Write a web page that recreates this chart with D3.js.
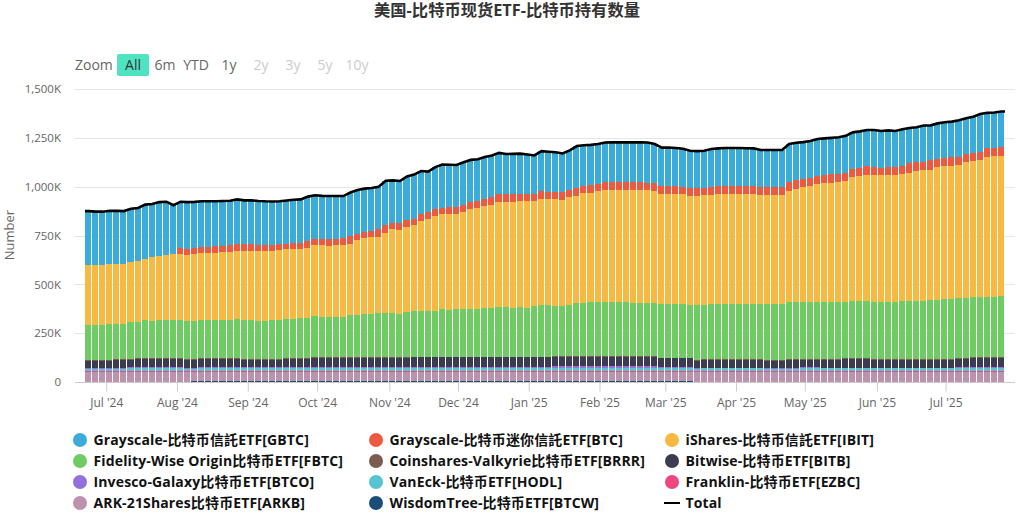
<!DOCTYPE html>
<html><head><meta charset="utf-8">
<script src="https://cdn.jsdelivr.net/npm/d3@7"></script>
<style>html,body{margin:0;padding:0;background:#fff;overflow:hidden}svg{display:block}
text{font-family:"Open Sans","Noto Sans CJK SC",sans-serif}</style></head><body>
<svg id="c" width="1024" height="513"></svg>
<script>
const titleText="美国-比特币现货ETF-比特币持有数量";
const yTicks=[0,250,500,750,1000,1250,1500];
const monthLabels=["Jul '24","Aug '24","Sep '24","Oct '24","Nov '24","Dec '24","Jan '25","Feb '25","Mar '25","Apr '25","May '25","Jun '25","Jul '25"];
const monthIndex=[3,13,23,32.8,43,52.7,62.7,72.7,82,92,101.7,111.9,121.6];
const zoomButtons=["All","6m","YTD","1y","2y","3y","5y","10y"];
const buttonCentres=[133,165,196,229,261,293,325,357];
const legendNames=["Grayscale-比特币信託ETF[GBTC]","Grayscale-比特币迷你信託ETF[BTC]","iShares-比特币信託ETF[IBIT]","Fidelity-Wise Origin比特币ETF[FBTC]","Coinshares-Valkyrie比特币ETF[BRRR]","Bitwise-比特币ETF[BITB]","Invesco-Galaxy比特币ETF[BTCO]","VanEck-比特币ETF[HODL]","Franklin-比特币ETF[EZBC]","ARK-21Shares比特币ETF[ARKB]","WisdomTree-比特币ETF[BTCW]","Total"];
const legendColors=["#3BACD9","#EC5A3F","#F6B942","#6FCB63","#7C5C50","#3B3C51","#9370DB","#56C3D3","#F0467F","#BC92AD","#1A4E78","#000000"];

const GBTC=[276,273,273,273,272,269,271,272,278,273,276,271,250,237,235,233,236,235,229,231,227,231,224,224,225,225,223,220,221,222,223,227,225,222,220,219,217,225,226,220,218,219,228,220,217,221,227,220,207,212,220,218,215,218,217,213,215,213,211,205,206,207,203,199,206,205,204,198,202,213,207,207,203,204,202,202,202,202,202,209,201,195,196,195,198,189,188,190,196,192,193,193,193,192,191,192,192,192,192,197,192,188,189,189,189,187,186,192,190,187,184,188,187,189,186,186,181,180,186,177,182,182,182,186,185,185,192,182,180,182];
const BTC=[0,0,0,0,0,0,0,0,0,0,0,0,0,31,31,29,29,29,34,32,34,34,35,35,31,29,30,31,29,31,31,34,31,30,34,33,34,37,29,32,33,37,40,30,34,36,33,34,38,36,33,32,34,37,36,35,34,39,41,41,40,35,35,36,38,39,35,39,39,45,37,37,37,40,42,42,42,42,42,34,39,42,42,41,34,42,41,39,39,42,43,43,43,43,43,39,39,39,39,42,45,43,40,43,39,42,43,39,41,42,45,43,40,39,39,42,49,46,42,50,42,43,43,41,41,42,41,44,43,45];
const IBIT=[307,307,307,307,307,307,311,310,314,324,328,335,338,338,342,344,343,344,345,347,349,349,353,355,357,359,355,357,357,355,354,358,364,368,365,367,368,366,383,388,393,393,410,429,428,437,440,463,470,486,487,494,490,496,510,516,524,528,537,537,542,543,546,538,546,541,548,544,550,548,564,563,569,573,574,574,575,579,577,578,574,563,562,562,563,559,559,559,559,563,563,563,563,563,563,558,558,558,558,572,578,587,595,602,609,611,614,617,632,639,646,648,648,650,650,651,655,663,670,669,680,680,682,685,692,696,704,717,722,718];
const FBTC=[180,180,180,185,181,183,189,188,195,193,196,196,196,196,192,195,196,196,196,196,197,200,202,200,198,196,200,201,201,204,206,209,208,205,205,205,205,214,217,222,221,223,224,225,222,230,232,233,232,236,243,238,242,244,244,246,249,250,254,254,250,254,251,257,262,264,256,256,262,269,271,274,276,276,276,276,275,271,273,272,271,275,275,275,274,269,278,280,283,283,283,283,283,283,283,283,286,286,286,290,292,292,293,293,293,293,293,290,293,293,293,293,292,292,292,297,297,297,297,300,302,307,308,304,308,307,307,307,307,312];
const BRRR=[4,4,4,4,4,4,4,4,4,4,4,4,4,4,4,4,4,4,4,4,4,4,4,4,4,4,4,4,4,4,4,4,4,4,4,4,4,4,4,4,4,4,4,4,4,4,4,4,4,4,4,4,4,4,4,4,4,4,4,4,4,4,4,4,4,4,4,4,4,4,4,4,4,4,4,4,4,4,4,4,4,4,4,4,4,4,4,4,4,4,4,4,4,4,4,4,4,4,4,4,4,4,4,4,4,4,4,4,4,4,4,4,4,4,4,4,4,4,4,4,4,4,4,4,4,4,4,4,4,4];
const BITB=[35,35,35,35,39,39,35,40,40,40,40,40,40,40,40,40,40,40,40,40,40,40,35,35,35,35,35,35,40,40,40,40,47,47,46,46,46,46,46,46,46,46,46,46,46,46,48,48,48,48,48,48,48,48,48,48,48,48,48,48,48,48,48,48,48,48,45,45,45,45,45,45,45,45,45,45,45,45,45,45,45,43,43,43,43,43,38,38,38,38,38,38,38,38,38,38,37,37,37,42,42,39,38,38,39,39,39,44,44,44,44,40,40,40,40,40,40,40,40,40,40,40,40,42,42,46,46,46,46,46];
const BTCO=[6,6,6,6,6,6,7,7,7,7,7,7,7,7,7,7,7,7,7,7,7,7,7,7,7,7,7,7,7,7,7,7,7,7,8,8,8,8,8,8,8,8,8,8,8,8,8,8,8,8,8,8,8,8,8,8,8,8,8,8,8,8,8,8,8,8,10,10,10,10,10,10,10,10,10,10,10,10,10,10,10,7,7,7,7,7,4,4,4,4,4,4,4,4,4,4,4,4,4,4,4,4,4,4,4,4,4,4,4,4,4,4,4,4,4,4,4,4,4,4,4,4,4,5,5,5,5,5,5,5];
const HODL=[13,13,13,13,13,13,13,13,13,13,13,13,13,13,13,13,14,14,14,14,14,14,14,14,14,14,14,14,14,14,14,14,14,14,14,14,14,14,14,14,14,14,14,14,14,14,14,14,14,14,14,14,14,14,14,14,14,14,14,14,14,14,14,14,14,14,18,18,18,18,18,18,18,18,18,18,18,18,18,18,18,15,15,15,15,15,14,14,14,14,14,14,14,14,14,14,14,14,14,14,14,14,14,14,14,14,14,14,14,14,14,14,14,14,14,14,14,14,14,14,14,14,14,17,17,17,17,17,17,17];
const EZBC=[4,4,4,4,4,4,4,4,4,4,4,4,4,4,4,4,4,4,4,4,4,4,4,4,4,4,4,4,4,4,4,4,4,4,4,4,4,4,4,4,4,4,4,4,4,4,4,4,4,4,4,4,4,4,4,4,4,4,4,4,4,4,4,4,4,4,4,4,4,4,4,4,4,4,4,4,4,4,4,4,4,4,4,4,4,4,4,4,4,4,4,4,4,4,4,4,4,4,4,4,4,4,4,4,4,4,4,4,4,4,4,4,4,4,4,4,4,4,4,4,4,4,4,4,4,4,4,4,4,4];
const ARKB=[50,50,50,50,50,50,53,53,53,53,53,53,53,53,50,46,48,48,48,48,48,48,48,48,48,48,48,48,48,48,48,48,48,48,48,48,48,48,48,48,48,48,48,48,48,48,48,48,48,48,48,48,48,48,48,48,48,48,48,48,48,48,48,48,48,48,48,48,48,48,48,48,48,48,48,48,48,48,48,48,48,48,48,48,48,48,50,52,52,52,52,52,52,52,52,52,50,50,50,50,50,53,53,53,52,52,52,52,52,52,52,52,52,52,52,52,52,52,52,52,52,52,52,52,52,52,52,52,52,52];
const BTCW=[0,0,0,0,0,0,0,0,0,0,0,0,0,0,0,4,4,4,4,4,4,4,4,4,4,4,4,4,4,4,4,4,4,4,4,4,4,4,4,4,4,4,4,4,4,4,4,4,4,4,4,4,4,4,4,4,4,4,4,4,4,4,4,4,4,4,4,4,4,4,4,4,4,4,4,4,4,4,4,4,4,4,4,4,4,4,0,0,0,0,0,0,0,0,0,0,0,0,0,0,0,0,0,0,0,0,0,0,0,0,0,0,0,0,0,0,0,0,0,0,0,0,0,0,0,0,0,0,0,0];
const Total=[875,872,872,877,876,875,887,891,908,911,921,923,905,923,921,922,925,925,925,927,928,935,930,930,927,925,924,925,929,933,935,949,956,953,952,952,952,970,983,990,993,1000,1030,1032,1029,1052,1062,1080,1077,1100,1113,1112,1111,1125,1137,1140,1152,1160,1173,1167,1168,1169,1165,1160,1182,1179,1176,1170,1186,1208,1212,1214,1218,1226,1227,1227,1227,1227,1227,1226,1218,1200,1200,1198,1194,1184,1182,1184,1193,1196,1198,1198,1198,1197,1196,1188,1188,1188,1188,1219,1225,1228,1234,1244,1247,1250,1253,1260,1278,1283,1290,1290,1285,1288,1285,1294,1300,1304,1313,1314,1324,1330,1333,1340,1350,1358,1372,1378,1380,1385];

const seriesValues=[GBTC,BTC,IBIT,FBTC,BRRR,BITB,BTCO,HODL,EZBC,ARKB,BTCW];
const n=Total.length;
const svg=d3.select("#c");
const x=d3.scaleLinear().domain([0,n]).range([85,1005]);
const y=d3.scaleLinear().domain([0,1500]).range([382,89]);

svg.append("text").attr("x",507).attr("y",16).attr("text-anchor","middle").attr("font-size",16.3).attr("font-weight",700).attr("fill","#333").text(titleText);

// range selector
svg.append("text").attr("x",75).attr("y",70).attr("font-size",14).attr("fill","#666").text("Zoom");
svg.append("rect").attr("x",117).attr("y",54).attr("width",32).attr("height",22).attr("rx",2).attr("fill","#50E3C2");
svg.selectAll("text.btn").data(zoomButtons).join("text").attr("class","btn")
 .attr("x",(d,i)=>buttonCentres[i]).attr("y",70).attr("text-anchor","middle").attr("font-size",14)
 .attr("fill",(d,i)=>i===0?"#333":i<4?"#666":"#ccc").text(d=>d);

// y axis + grid
const yAxis=d3.axisLeft(y).tickValues(yTicks).tickSize(0).tickPadding(0).tickFormat(d=>d3.format(",")(d)+(d?"K":""));
const gy=svg.append("g").attr("transform","translate(61,0)").call(yAxis);
gy.select(".domain").remove();
gy.selectAll("text").attr("font-size",11.5).attr("fill","#666").attr("font-family",null);
svg.append("g").selectAll("line").data(yTicks.filter(d=>d>0)).join("line")
 .attr("x1",75).attr("x2",1015).attr("y1",d=>Math.round(y(d))+.5).attr("y2",d=>Math.round(y(d))+.5).attr("stroke","#e6e6e6");
svg.append("text").attr("transform","translate(14,235) rotate(-90)").attr("text-anchor","middle").attr("font-size",13).attr("fill","#666").text("Number");

// stacked columns: first legend entry on top
const idx=d3.range(seriesValues.length).reverse();
const stack=d3.stack().keys(idx).value((i,k)=>seriesValues[k][i]);
const layers=stack(d3.range(n));
svg.append("g").selectAll("g").data(layers).join("g").attr("fill",d=>legendColors[d.key])
 .selectAll("rect").data(d=>d.map((s,i)=>({s,i}))).join("rect")
 .attr("shape-rendering","crispEdges")
 .attr("x",d=>Math.round(x(d.i)))
 .attr("width",d=>Math.round(x(d.i+1))-Math.round(x(d.i))-1)
 .attr("y",d=>Math.round(y(d.s[1])))
 .attr("height",d=>Math.round(y(d.s[0]))-Math.round(y(d.s[1])));

// total line, running from the left edge of the first column to the right edge of the last
const linePos=[0,...d3.range(n).map(i=>i+.5),n];
const lineVal=[Total[0],...Total,Total[n-1]];
svg.append("path").datum(lineVal).attr("fill","none").attr("stroke","#000").attr("stroke-width",2.6)
 .attr("d",d3.line().x((d,i)=>x(linePos[i])).y(d=>y(d)));

// x axis
const xAxis=d3.axisBottom(x).tickValues(monthIndex).tickSize(9).tickPadding(7).tickFormat((d,i)=>monthLabels[i]);
const gx=svg.append("g").attr("transform","translate(0,382.5)").call(xAxis);
gx.select(".domain").remove();
gx.selectAll("line").attr("stroke","#ccc");
gx.selectAll("text").attr("font-size",12).attr("fill","#666").attr("font-family",null);
svg.append("line").attr("x1",75).attr("x2",1015).attr("y1",382.5).attr("y2",382.5).attr("stroke","#ccc");

// legend
const colX=[80,376,672],rowY=[440,461,482,503];
const lg=svg.append("g").selectAll("g").data(legendNames).join("g")
 .attr("transform",(d,i)=>`translate(${colX[i%3]},${rowY[Math.floor(i/3)]})`);
lg.filter(d=>d!=="Total").append("circle").attr("r",7).attr("fill",(d,i)=>legendColors[i]);
lg.filter(d=>d==="Total").append("line").attr("x1",-8).attr("x2",8).attr("stroke","#000").attr("stroke-width",2);
lg.append("text").attr("x",13.5).attr("y",5).attr("font-size",14).attr("font-weight",700).attr("letter-spacing",0.14).attr("fill","#111").text(d=>d);
</script></body></html>
